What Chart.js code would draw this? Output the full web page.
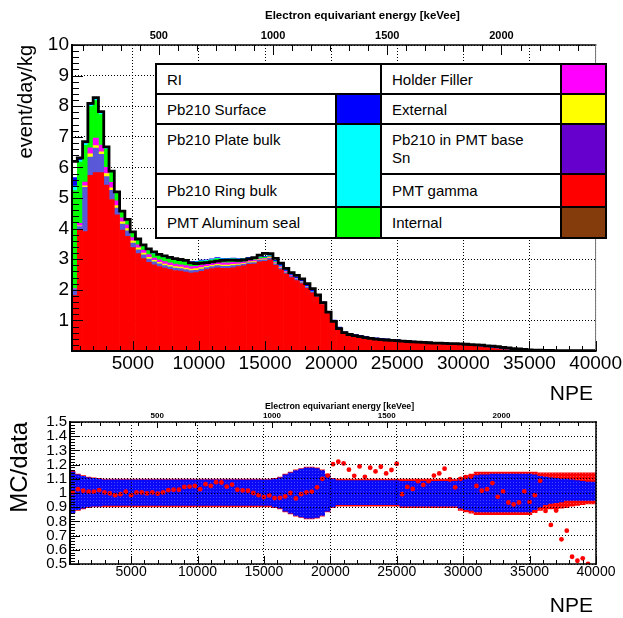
<!DOCTYPE html>
<html>
<head>
<meta charset="utf-8">
<script src="https://cdn.jsdelivr.net/npm/chart.js@4.4.0/dist/chart.umd.min.js"></script>
<style>
  body { margin: 0; background: #fff; }
  #page { position: relative; width: 623px; height: 618px; overflow: hidden; font-family: "Liberation Sans", Arial, sans-serif; }
  canvas { position: absolute; left: 0; }
  .txt { position: absolute; white-space: nowrap; line-height: 1; color: #000; }
  #legend { position: absolute; left: 155px; top: 63px; display: grid;
    grid-template-columns: 178px 43px 178px 43px; grid-template-rows: 28px 28px 48px 31px 29px;
    gap: 2px; padding: 2px; background: #000; }
  #legend div { background: #fff; }
  #legend .lab { font-size: 15px; padding-left: 10px; display: flex; align-items: center; }
  #legend .top { align-items: flex-start; padding-top: 6px; line-height: 18px; }
</style>
</head>
<body>
<div id="page">
  <canvas id="spectrum" width="623" height="405" style="top:0;width:623px;height:405px"></canvas>
  <canvas id="ratio" width="623" height="223" style="top:395px;width:623px;height:223px"></canvas>
  <div class="txt" style="left:265px;top:10px;font-size:11.5px;font-weight:bold">Electron equivariant energy [keVee]</div>
  <div class="txt" style="left:265px;top:402px;font-size:8.8px;font-weight:bold">Electron equivariant energy [keVee]</div>
  <div class="txt" style="right:30px;top:382px;font-size:21px">NPE</div>
  <div class="txt" style="right:30px;top:594px;font-size:21px">NPE</div>
  <div id="legend">
    <div class="lab" style="grid-column: 1 / span 2">RI</div>
    <div class="lab">Holder Filler</div>
    <div style="background:#ff00ff"></div>
    <div class="lab">Pb210 Surface</div>
    <div style="background:#0000ff"></div>
    <div class="lab">External</div>
    <div style="background:#ffff00"></div>
    <div class="lab top">Pb210 Plate bulk</div>
    <div style="background:#00ffff; grid-column: 2; grid-row: 3 / span 2"></div>
    <div class="lab top">Pb210 in PMT base<br>Sn</div>
    <div style="background:#6600cc"></div>
    <div class="lab">Pb210 Ring bulk</div>
    <div class="lab">PMT gamma</div>
    <div style="background:#ff0000"></div>
    <div class="lab">PMT Aluminum seal</div>
    <div style="background:#00ff00"></div>
    <div class="lab">Internal</div>
    <div style="background:#843c0c"></div>
  </div>
</div>
<script>
// NPE bins, 400 wide, centres
const binWidth = 400;
const binCenters = [
  600, 1000, 1400, 1800, 2200, 2600, 3000, 3400, 3800, 4200,
  4600, 5000, 5400, 5800, 6200, 6600, 7000, 7400, 7800, 8200,
  8600, 9000, 9400, 9800, 10200, 10600, 11000, 11400, 11800, 12200,
  12600, 13000, 13400, 13800, 14200, 14600, 15000, 15400, 15800, 16200,
  16600, 17000, 17400, 17800, 18200, 18600, 19000, 19400, 19800, 20200,
  20600, 21000, 21400, 21800, 22200, 22600, 23000, 23400, 23800, 24200,
  24600, 25000, 25400, 25800, 26200, 26600, 27000, 27400, 27800, 28200,
  28600, 29000, 29400, 29800, 30200, 30600, 31000, 31400, 31800, 32200,
  32600, 33000, 33400, 33800, 34200, 34600, 35000, 35400, 35800, 36200,
  36600, 37000, 37400, 37800, 38200, 38600, 39000, 39400, 39800
];

const npeTicks = [5000, 10000, 15000, 20000, 25000, 30000, 35000, 40000];
const rateTicks = [1, 2, 3, 4, 5, 6, 7, 8, 9, 10];
const ratioTicks = [0.5, 0.6, 0.7, 0.8, 0.9, 1, 1.1, 1.2, 1.3, 1.4, 1.5];
const keVTicks = [500, 1000, 1500, 2000];
const keVMin = 120, keVMax = 2412;

// data spectrum (black line), event/day/kg
const dataSpectrum = [
  6.2, 6.31, 6.84, 8.09, 8.28, 7.82, 6.67, 5.88, 5.2, 4.57,
  4.3, 3.89, 3.66, 3.47, 3.34, 3.24, 3.16, 3.11, 3.06, 3.02,
  2.99, 2.96, 2.88, 2.86, 2.87, 2.89, 2.91, 2.94, 2.96, 2.97,
  2.97, 2.96, 2.98, 3.01, 3.05, 3.13, 3.19, 3.18, 3.03, 2.87,
  2.7, 2.56, 2.47, 2.36, 2.2, 2.04, 1.83, 1.58, 1.27, 0.97,
  0.73, 0.6, 0.54, 0.5, 0.47, 0.44, 0.41, 0.39, 0.37, 0.36,
  0.35, 0.34, 0.32, 0.31, 0.3, 0.29, 0.28, 0.27, 0.26, 0.26,
  0.25, 0.24, 0.24, 0.23, 0.22, 0.21, 0.2, 0.19, 0.17, 0.16,
  0.14, 0.12, 0.1, 0.08, 0.07, 0.05, 0.04, 0.03, 0.025, 0.02,
  0.02, 0.015, 0.015, 0.012, 0.01, 0.01, 0.01, 0.01, 0.01
];

// MC components, stacked bottom to top
const pmtGamma = [
  1.82, 3.95, 3.9, 5.74, 5.83, 5.83, 5.42, 4.95, 4.45, 3.95,
  3.75, 3.38, 3.18, 3.02, 2.9, 2.82, 2.76, 2.71, 2.67, 2.63,
  2.61, 2.58, 2.55, 2.56, 2.6, 2.66, 2.69, 2.72, 2.7, 2.7,
  2.72, 2.76, 2.78, 2.83, 2.84, 2.91, 2.93, 2.98, 2.8, 2.66,
  2.52, 2.4, 2.3, 2.2, 2.05, 1.9, 1.76, 1.52, 1.22, 0.93,
  0.7, 0.58, 0.53, 0.49, 0.46, 0.43, 0.4, 0.38, 0.36, 0.345,
  0.335, 0.325, 0.305, 0.295, 0.285, 0.275, 0.265, 0.255, 0.245, 0.24,
  0.23, 0.22, 0.21, 0.2, 0.19, 0.175, 0.15, 0.13, 0.11, 0.09,
  0.07, 0.05, 0.035, 0.02, 0.01, 0.005, 0.003, 0.002, 0.001, 0.001,
  0.001, 0.001, 0.001, 0, 0, 0, 0, 0, 0
];
const pb210BaseSn = [
  0.2, 0.12, 1.45, 0.6, 0.8, 0.6, 0.28, 0.3, 0.22, 0.2,
  0.18, 0.15, 0.13, 0.12, 0.1, 0.09, 0.09, 0.08, 0.08, 0.08,
  0.08, 0.08, 0.08, 0.08, 0.08, 0.07, 0.07, 0.07, 0.07, 0.07,
  0.07, 0.05, 0.05, 0.05, 0.05, 0.05, 0.05, 0.05, 0.05, 0.05,
  0.04, 0.04, 0.04, 0.04, 0.03, 0.03, 0.03, 0.03, 0.02, 0.02,
  0.02, 0.01, 0.01, 0.01, 0.01, 0.01, 0.01, 0.01, 0.01, 0.01,
  0.01, 0.01, 0.01, 0.01, 0.01, 0.01, 0.01, 0.01, 0.01, 0.01,
  0.01, 0.01, 0.01, 0.01, 0.01, 0.01, 0.01, 0.01, 0.01, 0.01,
  0.01, 0.01, 0.01, 0.01, 0.01, 0.01, 0.005, 0.005, 0.005, 0.005,
  0.005, 0.005, 0.005, 0.005, 0.005, 0.005, 0.005, 0.005, 0.005
];
const external = [
  0, 0.02, 0.05, 0.1, 0.08, 0.08, 0.1, 0.08, 0.08, 0.07,
  0.07, 0.07, 0.06, 0.06, 0.06, 0.05, 0.05, 0.05, 0.05, 0.05,
  0.05, 0.05, 0.05, 0.05, 0.05, 0.04, 0.04, 0.04, 0.04, 0.04,
  0.04, 0.03, 0.03, 0.03, 0.03, 0.02, 0.02, 0.02, 0.02, 0.02,
  0.02, 0.01, 0.01, 0.01, 0.01
];
const holderFiller = [
  0.02, 0.08, 0.12, 0.2, 0.25, 0.22, 0.2, 0.18, 0.16, 0.13,
  0.12, 0.11, 0.1, 0.1, 0.09, 0.08, 0.08, 0.08, 0.08, 0.08,
  0.08, 0.08, 0.08, 0.08, 0.08, 0.07, 0.07, 0.07, 0.07, 0.07,
  0.07, 0.05, 0.05, 0.05, 0.05, 0.03, 0.03, 0.03, 0.03, 0.03,
  0.02, 0.02, 0.01, 0.01, 0.01
];
const alSeal = [
  3.2, 2.0, 1.2, 1.35, 1.22, 1.0, 0.6, 0.32, 0.25, 0.18,
  0.17, 0.15, 0.15, 0.14, 0.13, 0.13, 0.13, 0.13, 0.13, 0.13,
  0.12, 0.12, 0.12, 0.12, 0.12, 0.1, 0.1, 0.11, 0.11, 0.11,
  0.1, 0.1, 0.09, 0.07, 0.05, 0.04, 0.03, 0.02, 0.01, 0.01
];
const pb210Bulk = [
  0.15, 0.06, 0.06, 0.05, 0.06, 0.05, 0.04, 0.03, 0.02, 0.02,
  0.02, 0.02, 0.02, 0.02, 0.02, 0.02, 0.02, 0.02, 0.02, 0.02,
  0.02, 0.02, 0.02, 0.02, 0.02, 0.02, 0.02, 0.02, 0.02, 0.02,
  0.02, 0.01, 0.01, 0.01, 0.01, 0.01, 0.01, 0.01, 0.01, 0.01,
  0.01, 0.01, 0.01, 0.01, 0.01, 0.01, 0.01, 0.01, 0.01, 0.01,
  0.01
];
const pb210Surface = [
  0.28, 0.08, 0.05, 0.04, 0.04, 0.04, 0.03, 0.02, 0.02, 0.02,
  0.02, 0.02, 0.02, 0.02, 0.02, 0.02, 0.02, 0.02, 0.02, 0.02,
  0.02, 0.02, 0.02, 0.02, 0.02, 0.02, 0.02, 0.02, 0.02, 0.02,
  0.02, 0.02, 0.02, 0.02, 0.02, 0.02, 0.02, 0.02, 0.04, 0.05,
  0.05, 0.05, 0.05, 0.05, 0.05, 0.05, 0.05, 0.05, 0.05, 0.05,
  0.05, 0.04, 0.04, 0.04, 0.04, 0.04, 0.04, 0.04, 0.04, 0.04,
  0.04, 0.04, 0.03, 0.03, 0.03, 0.03, 0.03, 0.03, 0.03, 0.03,
  0.03, 0.03, 0.03, 0.03, 0.03, 0.03, 0.03, 0.04, 0.04, 0.05,
  0.05, 0.05, 0.05, 0.05, 0.05, 0.04, 0.03, 0.02, 0.015, 0.01,
  0.01, 0.01, 0.01, 0.01, 0.01, 0.01, 0.01, 0.01, 0.01
];

// MC/data ratio
const mcOverData = [
  1.004, 1.027, 1.016, 1.009, 1.009, 1.02, 1.004, 0.997, 0.985, 0.992,
  1.009, 0.985, 1.004, 1.004, 0.997, 1.004, 0.995, 1.004, 1.02, 1.023,
  1.023, 1.043, 1.045, 1.05, 1.027, 1.062, 1.05, 1.076, 1.074, 1.045,
  1.059, 1.023, 1.018, 1.016, 1.0, 0.985, 0.971, 0.983, 0.964, 0.966,
  0.976, 1.0, 0.962, 0.992, 1.004, 1.009, 1.04, 1.1, 1.123, 1.203,
  1.22, 1.208, 1.164, 1.121, 1.187, 1.114, 1.178, 1.152, 1.185, 1.138,
  1.162, 1.206, 0.992, 1.043, 1.029, 1.083, 1.057, 1.083, 1.123, 1.138,
  1.171, 1.095, 1.04, 1.1, 1.112, 1.116, 1.05, 1.016, 1.027, 1.07,
  0.973, 1.011, 0.933, 0.919, 0.933, 1.011, 0.936, 0.985, 1.086, 0.874,
  0.775, 0.876, 0.674, 0.735, 0.551, 0.523, 0.54, 0.5, null
];
// error bands (blue = data, red = MC)
const dataErrHi = [
  1.15, 1.13, 1.12, 1.11, 1.105, 1.1, 1.095, 1.095, 1.095, 1.095,
  1.095, 1.095, 1.095, 1.095, 1.095, 1.095, 1.095, 1.095, 1.095, 1.095,
  1.095, 1.095, 1.095, 1.095, 1.095, 1.095, 1.095, 1.095, 1.095, 1.095,
  1.095, 1.095, 1.095, 1.095, 1.095, 1.095, 1.095, 1.095, 1.1, 1.11,
  1.13, 1.145, 1.16, 1.17, 1.18, 1.18, 1.175, 1.16, 1.13, 1.1,
  1.09, 1.09, 1.09, 1.09, 1.09, 1.09, 1.09, 1.09, 1.09, 1.09,
  1.09, 1.09, 1.085, 1.085, 1.085, 1.085, 1.085, 1.085, 1.085, 1.085,
  1.085, 1.085, 1.085, 1.1, 1.11, 1.12, 1.125, 1.13, 1.13, 1.135,
  1.135, 1.135, 1.135, 1.135, 1.135, 1.135, 1.135, 1.13, 1.12, 1.115,
  1.11, 1.105, 1.1, 1.1, 1.095, 1.09, 1.085, 1.08, 1.08
];
const dataErrLo = [
  0.86, 0.88, 0.89, 0.9, 0.905, 0.905, 0.91, 0.91, 0.91, 0.91,
  0.91, 0.91, 0.91, 0.91, 0.91, 0.91, 0.91, 0.91, 0.91, 0.91,
  0.91, 0.91, 0.91, 0.91, 0.91, 0.91, 0.91, 0.91, 0.91, 0.91,
  0.91, 0.91, 0.91, 0.91, 0.91, 0.91, 0.91, 0.91, 0.9, 0.89,
  0.87, 0.855, 0.84, 0.83, 0.82, 0.82, 0.825, 0.84, 0.87, 0.9,
  0.915, 0.915, 0.915, 0.915, 0.915, 0.915, 0.915, 0.915, 0.915, 0.915,
  0.915, 0.915, 0.905, 0.905, 0.905, 0.905, 0.905, 0.905, 0.905, 0.905,
  0.905, 0.905, 0.905, 0.89, 0.88, 0.875, 0.865, 0.865, 0.865, 0.865,
  0.865, 0.865, 0.865, 0.865, 0.865, 0.865, 0.865, 0.88, 0.9, 0.915,
  0.925, 0.93, 0.935, 0.945, 0.945, 0.945, 0.945, 0.945, 0.945
];
const mcErrHi = [
  1.155, 1.135, 1.125, 1.115, 1.11, 1.105, 1.1, 1.1, 1.1, 1.1,
  1.1, 1.1, 1.1, 1.1, 1.1, 1.1, 1.1, 1.1, 1.1, 1.1,
  1.1, 1.1, 1.1, 1.1, 1.1, 1.1, 1.1, 1.1, 1.1, 1.1,
  1.1, 1.1, 1.1, 1.1, 1.1, 1.1, 1.1, 1.1, 1.105, 1.115,
  1.135, 1.15, 1.165, 1.175, 1.185, 1.185, 1.18, 1.165, 1.135, 1.105,
  1.1, 1.1, 1.1, 1.1, 1.1, 1.1, 1.1, 1.1, 1.1, 1.1,
  1.1, 1.1, 1.1, 1.1, 1.1, 1.1, 1.1, 1.1, 1.1, 1.1,
  1.1, 1.1, 1.1, 1.11, 1.125, 1.135, 1.15, 1.15, 1.15, 1.15,
  1.15, 1.15, 1.15, 1.15, 1.15, 1.15, 1.15, 1.15, 1.145, 1.145,
  1.145, 1.145, 1.145, 1.145, 1.145, 1.145, 1.145, 1.145, 1.145
];
const mcErrLo = [
  0.855, 0.875, 0.885, 0.895, 0.9, 0.9, 0.9, 0.9, 0.9, 0.9,
  0.9, 0.9, 0.9, 0.9, 0.9, 0.9, 0.9, 0.9, 0.9, 0.9,
  0.9, 0.9, 0.9, 0.9, 0.9, 0.9, 0.9, 0.9, 0.9, 0.9,
  0.9, 0.9, 0.9, 0.9, 0.9, 0.9, 0.9, 0.9, 0.895, 0.885,
  0.865, 0.85, 0.835, 0.825, 0.815, 0.815, 0.82, 0.835, 0.865, 0.895,
  0.905, 0.905, 0.905, 0.905, 0.905, 0.905, 0.905, 0.905, 0.905, 0.905,
  0.905, 0.905, 0.895, 0.895, 0.895, 0.895, 0.895, 0.895, 0.895, 0.895,
  0.895, 0.895, 0.895, 0.875, 0.865, 0.855, 0.845, 0.845, 0.845, 0.845,
  0.845, 0.845, 0.845, 0.845, 0.845, 0.845, 0.845, 0.86, 0.875, 0.885,
  0.885, 0.885, 0.89, 0.895, 0.905, 0.91, 0.915, 0.92, 0.92
];

Chart.defaults.font.family = '"Liberation Sans", Arial, sans-serif';
Chart.defaults.color = '#000';

const toBars = vals => vals.map((v, i) => ({ x: binCenters[i], y: v }));
// histogram outline: one point on each low bin edge, plus the last high edge
const toSteps = vals => {
  const pts = vals.map((v, i) => ({ x: binCenters[i] - binWidth / 2, y: v }));
  const last = vals.length - 1;
  pts.push({ x: binCenters[last] + binWidth / 2, y: vals[last] });
  return pts;
};
const fixTicks = values => scale => { scale.ticks = values.map(v => ({ value: v })); };

function hatch(base, light) {
  const c = document.createElement('canvas');
  c.width = 3; c.height = 3;
  const g = c.getContext('2d');
  g.fillStyle = base; g.fillRect(0, 0, 3, 3);
  g.fillStyle = light; g.fillRect(0, 0, 1, 1);
  return g.createPattern(c, 'repeat');
}

// ROOT style frame with inward ticks
function rootAxes(tickSpecs, frame) {
  return {
    id: 'rootAxes',
    afterDraw(chart) {
      const { ctx, chartArea: a } = chart;
      ctx.save();
      ctx.strokeStyle = '#000';
      ctx.lineWidth = 1;
      tickSpecs.forEach(t => {
        const s = chart.scales[t.scale];
        ctx.beginPath();
        for (let k = Math.ceil(s.min / t.minor - 1e-6); k * t.minor <= s.max + 1e-6; k++) {
          const v = k * t.minor;
          const r = v / t.major;
          const len = Math.abs(r - Math.round(r)) < 1e-6 ? t.majorLen : t.minorLen;
          const p = Math.round(s.getPixelForValue(v)) + 0.5;
          if (t.side === 'bottom') { ctx.moveTo(p, a.bottom); ctx.lineTo(p, a.bottom - len); }
          else if (t.side === 'top') { ctx.moveTo(p, a.top); ctx.lineTo(p, a.top + len); }
          else { ctx.moveTo(a.left, p); ctx.lineTo(a.left + len, p); }
        }
        ctx.stroke();
      });
      ctx.lineCap = 'square';
      frame.forEach(f => {
        ctx.lineWidth = f.w;
        ctx.strokeStyle = f.c;
        ctx.beginPath();
        if (f.side === 'left') { ctx.moveTo(a.left, a.top); ctx.lineTo(a.left, a.bottom); }
        if (f.side === 'right') { ctx.moveTo(a.right, a.top); ctx.lineTo(a.right, a.bottom); }
        if (f.side === 'top') { ctx.moveTo(a.left, a.top); ctx.lineTo(a.right, a.top); }
        if (f.side === 'bottom') { ctx.moveTo(a.left, a.bottom); ctx.lineTo(a.right, a.bottom); }
        ctx.stroke();
      });
      ctx.restore();
    }
  };
}

const bar = (label, vals, color) => ({
  label, data: toBars(vals), backgroundColor: color,
  borderWidth: 0, barPercentage: 1, categoryPercentage: 1
});

new Chart(document.getElementById('spectrum'), {
  type: 'bar',
  data: {
    datasets: [
      { type: 'line', label: 'Data', data: toSteps(dataSpectrum), stepped: true,
        borderColor: '#000', borderWidth: 2.8, pointRadius: 0, fill: false, order: -1 },
      bar('PMT gamma', pmtGamma, '#ff0000'),
      bar('Pb210 in PMT base Sn', pb210BaseSn, '#5858d8'),
      bar('External', external, '#ffff00'),
      bar('Holder Filler', holderFiller, '#ff00ff'),
      bar('PMT Aluminum seal', alSeal, '#00ff00'),
      bar('Pb210 bulk', pb210Bulk, '#00ffff'),
      bar('Pb210 Surface', pb210Surface, '#0000ff')
    ]
  },
  options: {
    responsive: false,
    animation: false,
    events: [],
    layout: { padding: { right: 26 } },
    plugins: { legend: { display: false }, tooltip: { enabled: false } },
    scales: {
      x: {
        type: 'linear', min: 400, max: 40000, offset: false, stacked: true,
        afterBuildTicks: fixTicks(npeTicks),
        afterFit: s => { s.height = 54; },
        ticks: { callback: v => String(v), font: { size: 19 }, padding: 1, maxRotation: 0, autoSkip: false },
        grid: { color: '#000', lineWidth: 1, drawTicks: false, offset: false },
        border: { display: false, dash: [1, 2] }
      },
      x2: {
        type: 'linear', position: 'top', min: keVMin, max: keVMax, offset: false,
        afterBuildTicks: fixTicks(keVTicks),
        afterFit: s => { s.height = 45; },
        ticks: { callback: v => String(v), font: { size: 11, weight: 'bold' }, padding: 2, maxRotation: 0, autoSkip: false },
        grid: { display: false, drawTicks: false },
        border: { display: false }
      },
      y: {
        min: 0, max: 10, stacked: true,
        afterBuildTicks: fixTicks(rateTicks),
        afterFit: s => { s.width = 72; },
        ticks: { callback: v => String(v), font: { size: 19 }, padding: 3, autoSkip: false },
        grid: { color: '#000', lineWidth: 1, drawTicks: false },
        border: { display: false, dash: [1, 2] },
        title: { display: true, text: 'event/day/kg', align: 'end', font: { size: 20 }, padding: { top: 14 } }
      }
    }
  },
  plugins: [rootAxes([
    { scale: 'x', side: 'bottom', major: 5000, minor: 1000, majorLen: 10, minorLen: 5 },
    { scale: 'x2', side: 'top', major: 500, minor: 500 / 6, majorLen: 10, minorLen: 6 },
    { scale: 'y', side: 'left', major: 1, minor: 0.2, majorLen: 11, minorLen: 7 }
  ], [
    { side: 'top', w: 1.5, c: '#000' },
    { side: 'right', w: 1, c: '#777' },
    { side: 'left', w: 2, c: '#000' },
    { side: 'bottom', w: 2, c: '#000' }
  ])]
});

const bandLine = (label, vals, fill, color) => ({
  label, data: toSteps(vals), stepped: true, borderWidth: 0, borderColor: 'transparent',
  pointRadius: 0, fill, backgroundColor: color
});

new Chart(document.getElementById('ratio'), {
  type: 'line',
  data: {
    datasets: [
      { label: 'MC/data', data: toBars(mcOverData), showLine: false, pointRadius: 2.4,
        pointBackgroundColor: '#ff0000', pointBorderWidth: 0, borderColor: '#ff0000' },
      bandLine('data err low', dataErrLo, false, 'transparent'),
      bandLine('data err high', dataErrHi, 1, hatch('#0a0af8', '#4646ff')),
      bandLine('MC err low', mcErrLo, false, 'transparent'),
      bandLine('MC err high', mcErrHi, 3, hatch('#ff0000', '#ff5050'))
    ]
  },
  options: {
    responsive: false,
    animation: false,
    events: [],
    layout: { padding: { right: 27 } },
    plugins: { legend: { display: false }, tooltip: { enabled: false } },
    scales: {
      x: {
        type: 'linear', min: 400, max: 40000, offset: false,
        afterBuildTicks: fixTicks(npeTicks),
        afterFit: s => { s.height = 54; },
        ticks: { callback: v => String(v), font: { size: 14 }, padding: 0, maxRotation: 0, autoSkip: false },
        grid: { color: '#000', lineWidth: 1, drawTicks: false, z: 1 },
        border: { display: false, dash: [1, 2] }
      },
      x2: {
        type: 'linear', position: 'top', min: keVMin, max: keVMax, offset: false,
        afterBuildTicks: fixTicks(keVTicks),
        afterFit: s => { s.height = 27; },
        ticks: { callback: v => String(v), font: { size: 8, weight: 'bold' }, padding: 1, maxRotation: 0, autoSkip: false },
        grid: { display: false, drawTicks: false },
        border: { display: false }
      },
      y: {
        min: 0.5, max: 1.5,
        afterBuildTicks: fixTicks(ratioTicks),
        afterFit: s => { s.width = 70; },
        ticks: { callback: v => String(Number(v.toFixed(1))), font: { size: 15 }, padding: 3, autoSkip: false },
        grid: { color: '#000', lineWidth: 1, drawTicks: false, z: 1 },
        border: { display: false, dash: [1, 2] },
        title: { display: true, text: 'MC/data', align: 'end', font: { size: 24 }, padding: { top: 6 } }
      }
    }
  },
  plugins: [rootAxes([
    { scale: 'x', side: 'bottom', major: 5000, minor: 1000, majorLen: 8, minorLen: 4 },
    { scale: 'x2', side: 'top', major: 500, minor: 500 / 6, majorLen: 6, minorLen: 4 },
    { scale: 'y', side: 'left', major: 0.1, minor: 0.02, majorLen: 10, minorLen: 5 }
  ], [
    { side: 'top', w: 1.5, c: '#000' },
    { side: 'right', w: 1.5, c: '#000' },
    { side: 'left', w: 2, c: '#000' },
    { side: 'bottom', w: 1.5, c: '#000' }
  ])]
});
</script>
</body>
</html>
